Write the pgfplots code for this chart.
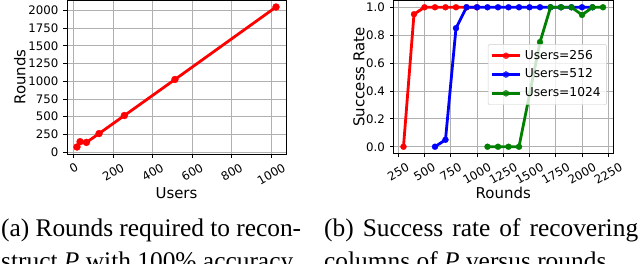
\documentclass[border=0pt]{standalone}
\usepackage{fontspec}
\setmainfont{DejaVu Sans}
\newfontfamily\capfont{Liberation Serif}
\usepackage{graphicx}
\usepackage{pgfplots}
\pgfplotsset{compat=1.18}
\definecolor{mgreen}{rgb}{0,0.5,0}
\definecolor{gridc}{HTML}{B0B0B0}
\pgfplotsset{
  mystyle/.style={
    scale only axis,
    axis line style={black, line width=0.8bp},
    grid=major,
    grid style={gridc, line width=0.8bp},
    tick align=outside,
    tick pos=left,
    major tick length=3.5bp,
    tick style={black, line width=0.8bp},
    scaled ticks=false,
    /pgf/number format/assume math mode=true,
    /pgf/number format/set thousands separator={},
    ticklabel style={font=\fontsize{11.8}{12}\selectfont},
    label style={font=\fontsize{15}{16}\selectfont},
    xticklabel style={anchor=north, inner sep=0pt, yshift=-5bp},
    yticklabel style={anchor=east, inner sep=0pt, xshift=-5bp},
    xticklabel={\rotatebox{30}{\pgfmathprintnumber{\tick}}},
  },
  ln/.style={line width=2.8bp, mark=*, solid},
}
\begin{document}
\begin{tikzpicture}
% ---------- left ----------
\begin{axis}[mystyle,
  at={(67bp,-154bp)}, anchor=south west,
  width=219bp, height=154bp,
  xmin=-34.4, xmax=1074.4, ymin=-29, ymax=2149,
  xtick={0,200,...,1000}, ytick={0,250,...,2000},
  xlabel={Users}, ylabel={Rounds},
  xlabel style={at={(axis description cs:0.5,-0.253)}, anchor=center},
  ylabel style={at={(axis description cs:-0.215,0.5)}, anchor=center},
]
\addplot[ln, red, mark size=3.5bp, mark options={line width=0.3bp}] coordinates {
(16,70) (32,145) (64,135) (128,260) (256,515) (512,1025) (1024,2050)};
\end{axis}
% ---------- right ----------
\begin{axis}[mystyle,
  at={(393.5bp,-153.7bp)}, anchor=south west,
  width=219.5bp, height=153.4bp,
  xmin=205, xmax=2295, ymin=-0.05, ymax=1.05,
  xtick={250,500,...,2250}, ytick={0,0.2,0.4,0.6,0.8,1.0},
  yticklabel style={/pgf/number format/.cd, fixed, fixed zerofill, precision=1},
  xlabel={Rounds}, ylabel={Success Rate},
  xlabel style={at={(axis description cs:0.5,-0.256)}, anchor=center},
  ylabel style={at={(axis description cs:-0.157,0.5)}, anchor=center},
  legend cell align=left,
  legend style={at={(axis description cs:0.972,0.516)}, anchor=east,
    draw=black!20, rounded corners=2bp, fill=white, fill opacity=0.8, text opacity=1,
    font=\fontsize{12.3}{13}\selectfont, inner xsep=2.5bp, inner ysep=2bp,
    nodes={inner ysep=3.5bp, inner xsep=3.5bp, text height=9.3bp, text depth=2.5bp}},
  legend image code/.code={\draw[mark repeat=2, mark phase=2, #1] plot coordinates {(0bp,0bp) (14bp,0bp) (28bp,0bp)};},
]
\addplot[ln, red, mark size=3bp, mark options={line width=0.3bp}] coordinates {
(300,0) (400,0.95) (500,1) (600,1) (700,1) (800,1) (900,1) (1000,1)};
\addlegendentry{Users=256}
\addplot[ln, blue, mark size=3bp, mark options={line width=0.3bp}] coordinates {
(600,0) (700,0.05) (800,0.85) (900,1) (1000,1) (1100,1) (1200,1) (1300,1) (1400,1)
(1500,1) (1600,1) (1700,1) (1800,1) (1900,1) (2000,1) (2100,1)};
\addlegendentry{Users=512}
\addplot[ln, mgreen, mark size=3bp, mark options={line width=0.3bp}] coordinates {
(1100,0) (1200,0) (1300,0) (1400,0) (1600,0.75) (1700,1) (1800,1) (1900,1)
(2000,0.945) (2100,1) (2200,1)};
\addlegendentry{Users=1024}
\end{axis}
% ---------- captions ----------
\node[anchor=base west, inner sep=0pt, font=\capfont\fontsize{25.5}{30}\selectfont] at (1bp,-236bp)
  {\makebox[300bp][s]{(a) Rounds required to recon-}};
\node[anchor=base west, inner sep=0pt, font=\capfont\fontsize{25.5}{30}\selectfont] at (1bp,-269bp)
  {struct {\itshape P} with 100\% accuracy};
\node[anchor=base west, inner sep=0pt, font=\capfont\fontsize{25.5}{30}\selectfont] at (324bp,-236bp)
  {\makebox[314bp][s]{(b) Success rate of recovering}};
\node[anchor=base west, inner sep=0pt, font=\capfont\fontsize{25.5}{30}\selectfont] at (324bp,-269bp)
  {columns of {\itshape P} versus rounds};
\pgfresetboundingbox
\path[use as bounding box] (0bp,-264bp) rectangle (640bp,0bp);
\end{tikzpicture}
\end{document}
